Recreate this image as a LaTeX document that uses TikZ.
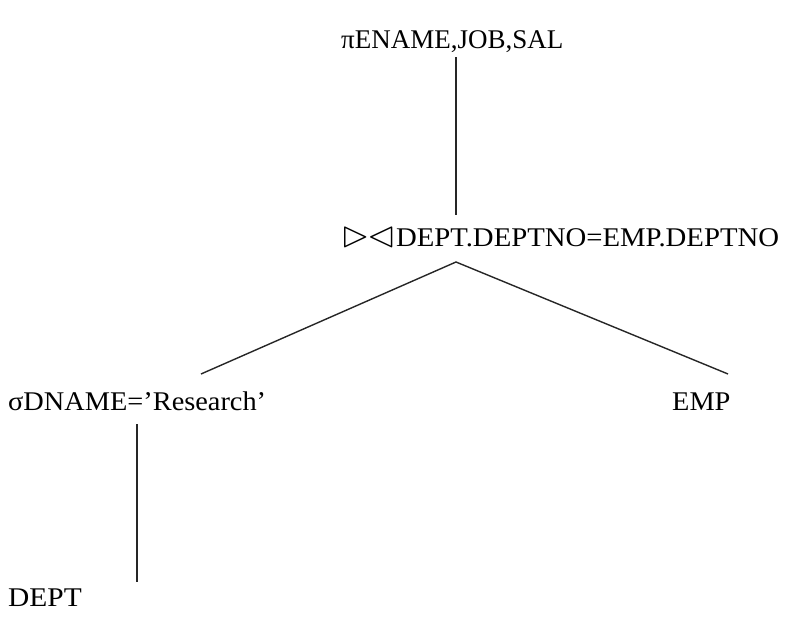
\documentclass[tikz,border=0pt]{standalone}
\usepackage{fontspec}
\usepackage{amssymb}
\usepackage{graphicx}
\setmainfont{Liberation Serif}
\newcommand{\wider}[2]{\scalebox{#1}[1]{#2}}
\begin{document}
\begin{tikzpicture}[x=1pt,y=-1pt,line cap=butt,font=\fontsize{27}{30}\selectfont]
  \tikzset{
    op/.style={anchor=base west,inner sep=0pt},
    edge/.style={line width=1.4pt,black!85}
  }
  \useasboundingbox (0,0) rectangle (805,621);
  % Operator and relation labels.
  \node[op] (proj) at (341,48) {πENAME,JOB,SAL};
  \node[op] (join) at (341,246)
    {\scalebox{1.35}{$\rhd\mkern-1mu\lhd$}\wider{1.065}{DEPT.DEPTNO=EMP.DEPTNO}};
  \node[op] (sel) at (8,410) {\wider{1.05}{σDNAME=’Research’}};
  \node[op] (emp) at (672,410) {\wider{1.05}{EMP}};
  \node[op] (dept) at (8,606) {\wider{1.09}{DEPT}};
  % Connector end points.
  \coordinate (projB) at (456,57);
  \coordinate (joinT) at (456,215);
  \coordinate (joinB) at (456,262);
  \coordinate (selT) at (201,374);
  \coordinate (empT) at (728,374);
  \coordinate (selB) at (137,424);
  \coordinate (deptT) at (137,582);
  \draw[edge] (projB) -- (joinT);
  \draw[edge] (selT) -- (joinB) -- (empT);
  \draw[edge] (selB) -- (deptT);
\end{tikzpicture}
\end{document}
